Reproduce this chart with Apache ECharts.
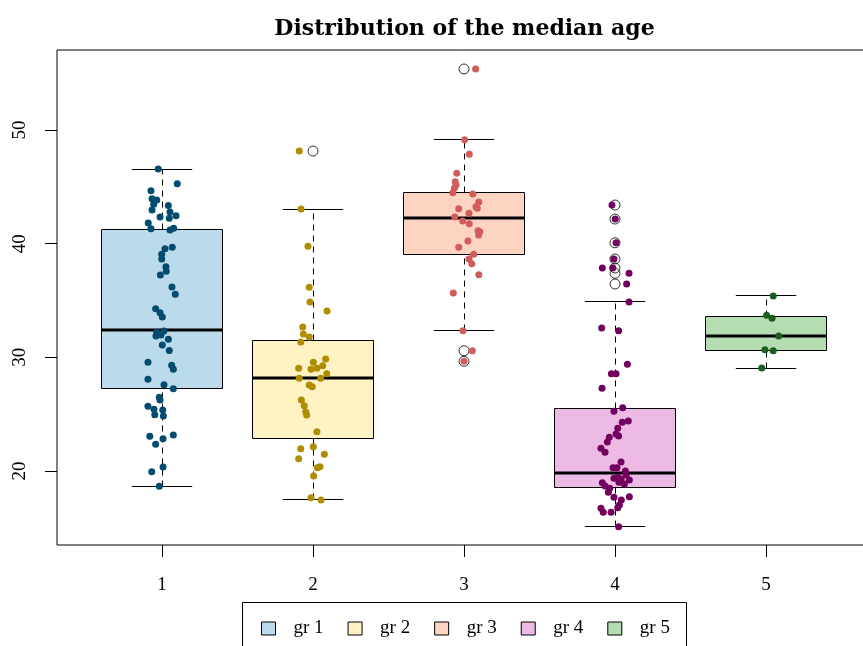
<!DOCTYPE html>
<html>
<head>
<meta charset="utf-8">
<script src="https://cdn.jsdelivr.net/npm/echarts@6/dist/echarts.min.js"></script>
<style>
  html, body { margin: 0; padding: 0; background: #fff; }
  #chart { width: 863px; height: 646px; }
</style>
</head>
<body>
<div id="chart"></div>
<script>
// Group labels and colours
const groupNames = ['gr 1', 'gr 2', 'gr 3', 'gr 4', 'gr 5'];
const boxFill = ['#BBDAEB', '#FFF2C3', '#FDD4C2', '#EDBAE5', '#B4DEB2'];
const pointColor = ['#034C6F', '#B08C00', '#D15D5B', '#72005E', '#1B5E1E'];

// Box statistics per group (lower whisker, Q1, median, Q3, upper whisker)
const whiskerLow  = [18.65, 17.45, 32.34, 15.10, 29.06];
const quartile1   = [27.30, 22.82, 39.09, 18.59, 30.62];
const medians     = [32.40, 28.18, 42.26, 19.82, 31.88];
const quartile3   = [41.29, 31.52, 44.46, 25.54, 33.57];
const whiskerHigh = [46.57, 43.05, 49.15, 34.87, 35.40];

// Outliers per group
const outliers = [
  [],
  [48.15],
  [55.37, 30.58, 29.65],
  [43.40, 42.17, 40.08, 38.65, 37.86, 37.39, 36.45],
  []
];

// Observed median ages per group, with the horizontal jitter used to spread them
const g1Values = [46.57,45.28,44.66,43.96,43.84,43.46,42.96,43.37,42.79,42.46,42.35,42.23,41.82,41.32,41.20,41.35,39.56,39.68,39.06,38.65,37.97,37.57,37.24,36.19,35.55,34.28,33.93,33.55,32.20,32.32,31.96,31.88,31.59,31.08,30.60,29.56,29.30,28.95,28.07,27.59,27.24,26.48,26.25,25.69,25.43,25.37,24.95,24.84,23.05,22.84,23.17,22.35,20.35,19.94,18.65];
const g1Jitter = [-0.025,0.101,-0.073,-0.066,-0.035,-0.055,-0.066,0.042,0.053,0.093,-0.013,0.048,-0.091,-0.073,0.053,0.077,0.020,0.068,-0.002,-0.002,0.026,0.028,-0.011,0.066,0.088,-0.042,-0.013,0.002,-0.035,0.013,-0.007,-0.040,0.042,0.002,0.048,-0.093,0.064,0.075,-0.093,0.013,0.075,-0.018,-0.013,-0.093,-0.053,0.005,-0.048,0.009,-0.081,0.007,0.075,-0.042,0.007,-0.068,-0.018];

const g2Values = [48.15,43.05,39.77,36.16,34.87,34.08,32.67,32.05,31.79,31.35,29.85,29.56,29.03,28.95,29.03,29.26,28.56,28.16,28.16,27.57,27.42,26.25,25.74,25.19,24.93,23.46,21.96,22.14,21.47,21.08,20.29,20.38,19.56,17.65,17.45];
const g2Jitter = [-0.091,-0.079,-0.033,-0.025,-0.020,0.093,-0.068,-0.064,-0.025,-0.081,0.084,0.002,-0.095,-0.013,0.026,0.064,0.091,-0.091,0.051,-0.025,-0.005,-0.077,-0.058,-0.048,-0.042,0.026,-0.081,0.002,0.075,-0.095,0.029,0.046,0.004,-0.013,0.053];

const g3Values = [55.37,49.15,47.86,46.19,45.45,45.16,44.87,44.48,44.37,43.66,43.25,43.11,43.08,42.67,42.35,41.99,41.76,41.14,41.05,40.76,40.23,39.68,39.06,38.65,38.24,37.27,35.66,32.34,30.58,29.65];
const g3Jitter = [0.077,0.004,0.035,-0.048,-0.058,-0.053,-0.064,-0.074,0.058,0.098,0.079,0.088,-0.035,0.033,-0.061,-0.009,0.035,0.093,0.104,0.097,0.026,-0.035,0.064,0.033,0.051,0.098,-0.071,-0.007,0.055,0.000];

const g4Values = [43.40,42.17,40.08,38.65,37.86,37.86,37.39,36.45,34.87,32.58,32.34,29.39,28.56,28.56,27.28,25.57,25.25,24.40,24.28,23.76,23.26,23.08,22.96,22.55,22.00,21.65,20.79,20.29,20.29,20.00,19.36,19.45,19.27,19.65,19.21,18.86,19.00,18.97,18.68,18.48,18.13,17.69,17.45,17.74,17.01,16.77,16.72,16.37,16.37,15.10];
const g4Jitter = [-0.020,0.002,0.007,-0.007,-0.084,-0.015,0.093,0.077,0.093,-0.088,0.024,0.082,-0.024,0.007,-0.086,0.051,-0.007,0.088,0.048,0.018,0.007,0.024,-0.038,-0.051,-0.093,-0.066,0.040,-0.013,0.013,0.069,-0.007,0.020,0.040,0.073,0.095,0.062,0.026,-0.084,-0.066,-0.035,-0.044,-0.007,0.042,0.095,0.029,0.018,-0.093,-0.078,-0.026,0.024];

const g5Values = [35.40,33.70,33.43,31.88,30.67,30.58,29.06];
const g5Jitter = [0.048,0.004,0.040,0.084,-0.007,0.048,-0.028];

const groupValues = [g1Values, g2Values, g3Values, g4Values, g5Values];
const groupJitter = [g1Jitter, g2Jitter, g3Jitter, g4Jitter, g5Jitter];

// Axis ticks
const xTicks = [1, 2, 3, 4, 5];
const yTicks = [20, 30, 40, 50];

const SERIF = '"Liberation Serif", "DejaVu Serif", serif';

// Half widths (in x units) of the box and the whisker staples
const BOX_HALF = 0.4;
const CAP_HALF = 0.2;

function crisp(v) { return Math.round(v - 0.5) + 0.5; }

function renderBox(params, api) {
  const x = api.value(0);
  const lo = api.value(1), q1 = api.value(2), med = api.value(3), q3 = api.value(4), hi = api.value(5);
  const cx = crisp(api.coord([x, med])[0]);
  const left = api.coord([x - BOX_HALF, q1])[0];
  const right = api.coord([x + BOX_HALF, q1])[0];
  const capL = api.coord([x - CAP_HALF, lo])[0];
  const capR = api.coord([x + CAP_HALF, lo])[0];
  const yLo = crisp(api.coord([x, lo])[1]);
  const yQ1 = crisp(api.coord([x, q1])[1]);
  const yMed = Math.round(api.coord([x, med])[1]);
  const yQ3 = crisp(api.coord([x, q3])[1]);
  const yHi = crisp(api.coord([x, hi])[1]);
  const bl = crisp(left), br = crisp(right);
  const lineStyle = { stroke: '#000', lineWidth: 1, fill: null };
  const dashStyle = { stroke: '#000', lineWidth: 1, lineDash: [6, 5], fill: null };
  return {
    type: 'group',
    children: [
      { type: 'line', shape: { x1: cx, y1: yLo, x2: cx, y2: yQ1 }, style: dashStyle },
      { type: 'line', shape: { x1: cx, y1: yQ3, x2: cx, y2: yHi }, style: dashStyle },
      { type: 'line', shape: { x1: capL, y1: yLo, x2: capR, y2: yLo }, style: lineStyle },
      { type: 'line', shape: { x1: capL, y1: yHi, x2: capR, y2: yHi }, style: lineStyle },
      { type: 'rect', shape: { x: bl, y: yQ3, width: br - bl, height: yQ1 - yQ3 },
        style: { fill: api.visual('color'), stroke: '#000', lineWidth: 1 } },
      { type: 'line', shape: { x1: bl, y1: yMed, x2: br, y2: yMed }, style: { stroke: '#000', lineWidth: 3 } }
    ]
  };
}

const series = [];

// Boxes (one series per group so each appears in the legend)
groupNames.forEach((name, i) => {
  series.push({
    name: name,
    type: 'custom',
    renderItem: renderBox,
    itemStyle: { color: boxFill[i], borderColor: '#000', borderWidth: 1 },
    encode: { x: 0, y: [1, 2, 3, 4, 5] },
    data: [[xTicks[i], whiskerLow[i], quartile1[i], medians[i], quartile3[i], whiskerHigh[i]]],
    z: 2,
    silent: true
  });
});

// Outlier circles
series.push({
  name: 'outliers',
  type: 'scatter',
  symbol: 'circle',
  symbolSize: 10,
  itemStyle: { color: 'rgba(0,0,0,0)', borderColor: '#000', borderWidth: 1 },
  data: outliers.flatMap((vals, i) => vals.map(v => [xTicks[i], v])),
  z: 3,
  silent: true
});

// Jittered observations
groupValues.forEach((vals, i) => {
  series.push({
    name: 'obs ' + (i + 1),
    type: 'scatter',
    symbol: 'circle',
    symbolSize: 7,
    itemStyle: { color: pointColor[i], opacity: 1 },
    data: vals.map((v, k) => [xTicks[i] + groupJitter[i][k], v]),
    z: 4,
    silent: true
  });
});

const X_MIN = 0.3046;
const X_UNIT_PX = 151;
const GRID_W = 815;

const chart = echarts.init(document.getElementById('chart'), null, { renderer: 'canvas' });
chart.setOption({
  animation: false,
  backgroundColor: '#fff',
  grid: {
    left: 57, top: 50, width: GRID_W, height: 495,
    outerBoundsMode: 'none',
    containLabel: false,
    show: true, borderColor: '#000', borderWidth: 1, backgroundColor: 'transparent'
  },
  xAxis: {
    type: 'value', min: X_MIN, max: X_MIN + GRID_W / X_UNIT_PX,
    axisLine: { show: false },
    splitLine: { show: false },
    axisTick: { show: true, length: 12, lineStyle: { color: '#000' }, customValues: xTicks },
    axisLabel: { show: true, color: '#000', fontFamily: SERIF, fontSize: 19, margin: 31, customValues: xTicks }
  },
  yAxis: {
    type: 'value', min: 13.49, max: 57.04,
    axisLine: { show: false },
    splitLine: { show: false },
    axisTick: { show: true, length: 12, lineStyle: { color: '#000' }, customValues: yTicks },
    axisLabel: { show: true, color: '#000', fontFamily: SERIF, fontSize: 19, rotate: 90, margin: 27, customValues: yTicks }
  },
  legend: {
    data: groupNames,
    left: 261, top: 619,
    padding: 0,
    orient: 'horizontal',
    icon: 'rect',
    itemWidth: 14, itemHeight: 13,
    itemGap: 24,
    itemStyle: { borderColor: '#000', borderWidth: 1 },
    textStyle: { color: '#000', fontFamily: SERIF, fontSize: 19, padding: [0, 0, 0, 13] },
    selectedMode: false
  },
  graphic: [
    {
      type: 'rect', silent: true,
      shape: { x: 242.5, y: 602.5, width: 444, height: 60 },
      style: { fill: null, stroke: '#000', lineWidth: 1 }
    },
    {
      type: 'text', silent: true,
      style: {
        text: 'Distribution of the median age',
        x: 464.5, y: 29,
        textAlign: 'center', textVerticalAlign: 'middle',
        font: 'bold 22px "DejaVu Serif", serif',
        fill: '#000'
      }
    }
  ],
  series: series
});
</script>
</body>
</html>
